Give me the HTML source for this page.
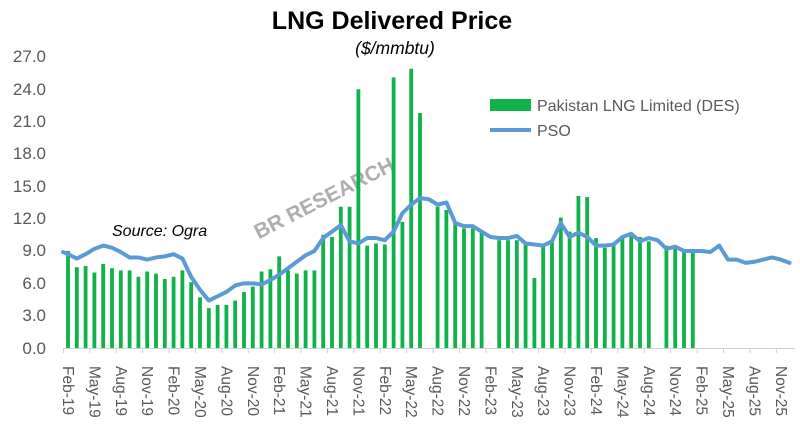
<!DOCTYPE html>
<html><head><meta charset="utf-8"><style>
html,body{margin:0;padding:0;background:#fff;width:800px;height:445px;overflow:hidden}
svg{display:block;font-family:"Liberation Sans",Arial,sans-serif}
</style></head><body>
<svg id="c" width="800" height="445" viewBox="0 0 800 445" xmlns="http://www.w3.org/2000/svg">
<text x="392" y="29" font-size="25" font-weight="bold" text-anchor="middle" fill="#000">LNG Delivered Price</text>
<text x="395" y="54" font-size="17.5" font-style="italic" text-anchor="middle" fill="#000">($/mmbtu)</text>
<g font-size="17" fill="#595959" text-anchor="end">
<text x="46" y="354">0.0</text><text x="46" y="321">3.0</text><text x="46" y="289">6.0</text>
<text x="46" y="256">9.0</text><text x="46" y="224">12.0</text><text x="46" y="192">15.0</text>
<text x="46" y="159">18.0</text><text x="46" y="127">21.0</text><text x="46" y="95">24.0</text>
<text x="46" y="62">27.0</text>
</g>
<text x="325" y="205" font-size="21" font-weight="bold" fill="#a6a6a6" opacity="0.9" text-anchor="middle" transform="rotate(-27 325 200)">BR RESEARCH</text>
<g id="bars" fill="#11b14b"></g>
<line x1="63" y1="348.5" x2="795" y2="348.5" stroke="#d0d0d0" stroke-width="1"/>
<g id="ticks" stroke="#d0d0d0"></g>
<polyline id="pso" fill="none" stroke="#5b9bd5" stroke-width="4" stroke-linejoin="round" stroke-linecap="round"/>
<text x="112" y="236" font-size="16" font-style="italic" fill="#000">Source: Ogra</text>
<rect x="490" y="99" width="41" height="12" fill="#11b14b"/>
<text x="537" y="111" font-size="16" fill="#595959">Pakistan LNG Limited (DES)</text>
<line x1="490" y1="130" x2="531" y2="130" stroke="#5b9bd5" stroke-width="4"/>
<text x="537" y="136" font-size="16" fill="#595959">PSO</text>
<g font-size="15.5" fill="#595959">
<text transform="translate(63,366) rotate(90)">Feb-19</text>
<text transform="translate(89.4,366) rotate(90)">May-19</text>
<text transform="translate(115.8,366) rotate(90)">Aug-19</text>
<text transform="translate(142.2,366) rotate(90)">Nov-19</text>
<text transform="translate(168.6,366) rotate(90)">Feb-20</text>
<text transform="translate(195,366) rotate(90)">May-20</text>
<text transform="translate(221.4,366) rotate(90)">Aug-20</text>
<text transform="translate(247.8,366) rotate(90)">Nov-20</text>
<text transform="translate(274.2,366) rotate(90)">Feb-21</text>
<text transform="translate(300.6,366) rotate(90)">May-21</text>
<text transform="translate(327,366) rotate(90)">Aug-21</text>
<text transform="translate(353.4,366) rotate(90)">Nov-21</text>
<text transform="translate(379.8,366) rotate(90)">Feb-22</text>
<text transform="translate(406.2,366) rotate(90)">May-22</text>
<text transform="translate(432.6,366) rotate(90)">Aug-22</text>
<text transform="translate(459,366) rotate(90)">Nov-22</text>
<text transform="translate(485.4,366) rotate(90)">Feb-23</text>
<text transform="translate(511.8,366) rotate(90)">May-23</text>
<text transform="translate(538.2,366) rotate(90)">Aug-23</text>
<text transform="translate(564.6,366) rotate(90)">Nov-23</text>
<text transform="translate(591,366) rotate(90)">Feb-24</text>
<text transform="translate(617.4,366) rotate(90)">May-24</text>
<text transform="translate(643.8,366) rotate(90)">Aug-24</text>
<text transform="translate(670.2,366) rotate(90)">Nov-24</text>
<text transform="translate(696.6,366) rotate(90)">Feb-25</text>
<text transform="translate(723,366) rotate(90)">May-25</text>
<text transform="translate(749.4,366) rotate(90)">Aug-25</text>
<text transform="translate(775.8,366) rotate(90)">Nov-25</text>
</g>
</svg>
<script>
var bars=[9.0,7.5,7.6,7.0,7.8,7.4,7.2,7.2,6.6,7.1,6.9,6.4,6.6,7.2,6.1,4.7,3.7,4.0,4.0,4.4,5.2,5.7,7.1,7.3,8.5,7.2,6.9,7.2,7.2,
10.5,10.3,13.1,13.1,24.0,9.5,9.7,9.6,25.1,11.7,25.9,21.8,null,13.1,12.8,11.6,11.1,11.1,10.8,null,10.0,10.0,10.0,9.6,6.5,9.5,9.9,
12.1,10.8,14.1,14.0,10.2,9.3,9.6,10.2,10.5,10.3,9.9,null,9.5,9.2,8.9,8.9];
var pso=[8.7,8.3,8.7,9.2,9.5,9.3,8.9,8.4,8.4,8.2,8.4,8.5,8.7,8.3,6.6,5.4,4.4,4.8,5.2,5.8,6.0,6.0,5.9,6.3,6.8,7.4,8.0,8.6,9.0,
10.2,10.8,11.4,9.9,9.7,10.2,10.2,10.0,10.8,12.5,13.3,13.9,13.8,13.3,13.5,11.6,11.3,11.3,10.8,10.3,10.2,10.2,10.4,9.7,9.6,9.5,9.9,
11.6,10.3,10.7,10.3,9.5,9.5,9.6,10.3,10.6,9.9,10.2,10.0,9.2,9.4,9.0,9.0,9.0,8.9,9.5,8.2,8.2,7.9,8.0,8.2,8.4,8.2,7.9];
var NS="http://www.w3.org/2000/svg";
function X(i){return 68+8.8*i}function Y(v){return 348-10.78*v}
var g=document.getElementById("bars");
bars.forEach(function(v,i){if(v==null)return;var r=document.createElementNS(NS,"rect");
r.setAttribute("x",X(i)-1.9);r.setAttribute("width",3.8);r.setAttribute("y",Y(v));r.setAttribute("height",10.78*v);g.appendChild(r);});
var pts=["63,"+Y(8.9)];pso.forEach(function(v,i){pts.push(X(i)+","+Y(v));});
document.getElementById("pso").setAttribute("points",pts.join(" "));
var t=document.getElementById("ticks");
for(var k=0;k<=28;k++){var l=document.createElementNS(NS,"line");var x=63.5+26.4*k;
l.setAttribute("x1",x);l.setAttribute("x2",x);l.setAttribute("y1",348);l.setAttribute("y2",353);t.appendChild(l);}
</script>
</body></html>
